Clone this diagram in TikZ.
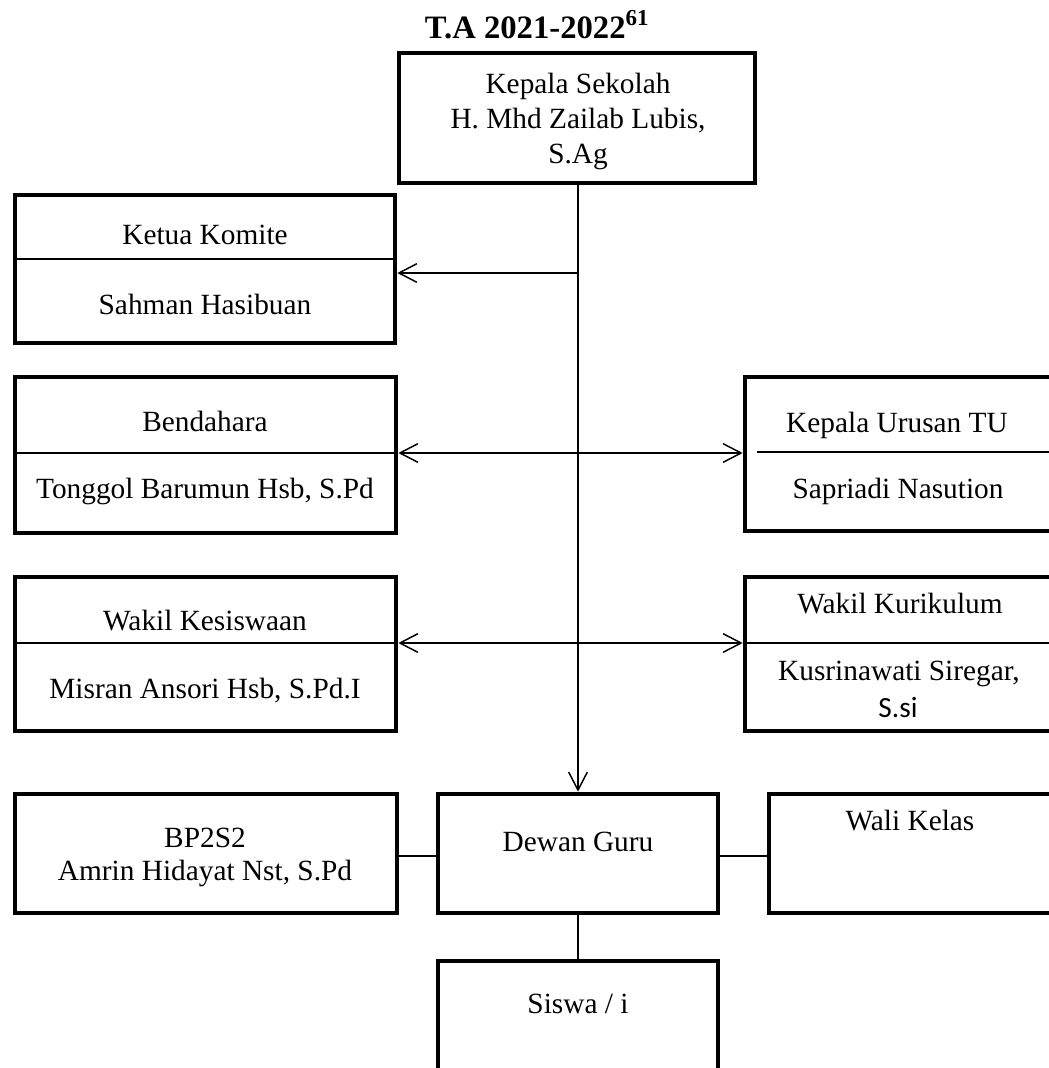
\documentclass[tikz,border=0pt]{standalone}
\usepackage{fontspec}
\setmainfont{Liberation Serif}
\newfontfamily\calibrifont{Carlito}
\usetikzlibrary{arrows.meta,fit}
\begin{document}
\begin{tikzpicture}[x=0.75pt,y=-0.75pt,
  box/.style={draw, line width=3.5pt, inner sep=0pt},
  txt/.style={anchor=base, inner sep=0pt, font=\fontsize{22}{26}\selectfont},
  conn/.style={line width=1.1pt},
  divline/.style={line width=1.1pt},
  barb/.tip={Straight Barb[length=13.5pt,width=14pt,line width=1.1pt]}]
\useasboundingbox (0,0) rectangle (1049,1068);
\clip (0,0) rectangle (1049,1068);

% title
\node[anchor=base, inner sep=0pt, font=\fontsize{24.5}{28}\selectfont\bfseries] (title) at (537,38) {T.A 2021-2022\textsuperscript{61}};

% boxes
\node[box, fit={(399,53) (755,183)}] (kepala) {};
\node[box, fit={(15,195) (395,343)}] (ketua) {};
\node[box, fit={(15,377) (396,533)}] (bend) {};
\node[box, fit={(15,577) (396,731)}] (kesis) {};
\node[box, fit={(745,377) (1100,531)}] (tu) {};
\node[box, fit={(745,577) (1100,731)}] (kuri) {};
\node[box, fit={(15,794) (397,913)}] (bp) {};
\node[box, fit={(438,794) (718,913)}] (dewan) {};
\node[box, fit={(769,794) (1100,913)}] (wali) {};
\node[box, fit={(438,961) (718,1100)}] (siswa) {};

% dividers
\draw[divline] (ketua.west |- 0,259) -- (ketua.east |- 0,259);
\draw[divline] (bend.west |- 0,453) -- (bend.east |- 0,453);
\draw[divline] (kesis.west |- 0,643) -- (kesis.east |- 0,643);
\draw[divline] (757,452) -- (tu.east |- 0,452);
\draw[divline] (kuri.west |- 0,643) -- (kuri.east |- 0,643);

% texts
\node[txt] (kepT1) at (578,93) {Kepala Sekolah};
\node[txt] (kepT2) at (578,128) {H. Mhd Zailab Lubis,};
\node[txt] (kepT3) at (578,163) {S.Ag};
\node[txt] (ketT1) at (205,244) {Ketua Komite};
\node[txt] (ketT2) at (205,314) {Sahman Hasibuan};
\node[txt] (benT1) at (205,431) {Bendahara};
\node[txt] (benT2) at (205,498) {Tonggol Barumun Hsb, S.Pd};
\node[txt] (kesT1) at (205,630) {Wakil Kesiswaan};
\node[txt] (kesT2) at (205,698) {Misran Ansori Hsb, S.Pd.I};
\node[txt] (tuT1) at (897,432) {Kepala Urusan TU};
\node[txt] (tuT2) at (898,498) {Sapriadi Nasution};
\node[txt] (kurT1) at (900,613) {Wakil Kurikulum};
\node[txt] (kurT2) at (899,680) {Kusrinawati Siregar,};
\node[txt, font=\fontsize{22}{26}\selectfont\calibrifont] (kurT3) at (898,717) {S.si};
\node[txt] (bpT1) at (205,847) {BP2S2};
\node[txt] (bpT2) at (205,880) {Amrin Hidayat Nst, S.Pd};
\node[txt] (dewT) at (578,851) {Dewan Guru};
\node[txt] (walT) at (910,830) {Wali Kelas};
\node[txt] (sisT) at (578,1013) {Siswa / i};

% connectors
\draw[conn,-{barb}] (kepala.south -| dewan.north) -- (dewan.north);
\coordinate (j1) at (dewan.north |- 0,273);
\draw[conn,-{barb}] (j1) -- (j1 -| ketua.east);
\draw[conn,{barb}-{barb}] (bend.east |- 0,453) -- (tu.west |- 0,453);
\draw[conn,{barb}-{barb}] (kesis.east |- 0,643) -- (kuri.west |- 0,643);
\draw[conn] (bp.east |- 0,856) -- (dewan.west |- 0,856);
\draw[conn] (dewan.east |- 0,856) -- (wali.west |- 0,856);
\draw[conn] (dewan.south) -- (siswa.north);
\end{tikzpicture}
\end{document}
